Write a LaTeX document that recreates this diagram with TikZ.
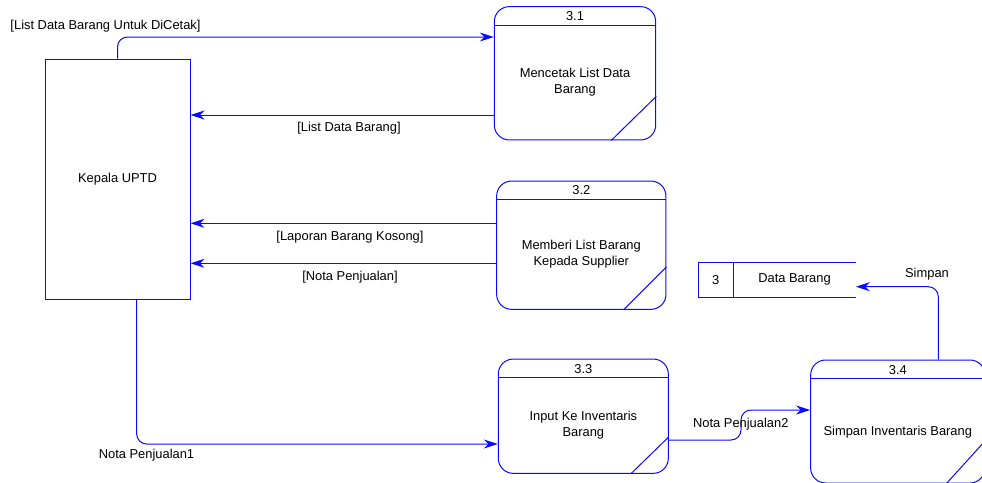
\documentclass[tikz,border=0pt]{standalone}
\usepackage{fontspec}
\setmainfont{Liberation Sans}
\usetikzlibrary{arrows.meta}
\definecolor{dfdblue}{RGB}{10,10,255}

\begin{document}
\begin{tikzpicture}[x=1pt,y=-1pt]

\tikzset{every node/.style={font=\fontsize{12.9}{16}\selectfont},
  entity/.style={draw=dfdblue, line width=1pt, inner sep=0pt},
  process/.style={draw=dfdblue, line width=1pt, rounded corners=15pt, inner sep=0pt},
  txt/.style={align=center},
  flow/.style={draw=dfdblue, line width=1pt, rounded corners=10pt,
    -{Stealth[length=14pt,width=9pt,inset=4.5pt]}}}

\useasboundingbox (0,0) rectangle (982,482);
\clip (0,0) rectangle (982,482);

\node[entity, minimum width=145pt, minimum height=240.5pt] (kepala) at (117.5,179.3) {Kepala UPTD};

\node[process, minimum width=161.4pt, minimum height=133.3pt] (p31) at (575,73.3) {};
\node (p31no) at (575,16.2) {3.1};
\node[txt] (p31txt) at (575,82.5) {Mencetak List Data\\Barang};

\node[process, minimum width=169.3pt, minimum height=128.3pt] (p32) at (581.3,245.2) {};
\node (p32no) at (581.3,190.5) {3.2};
\node[txt] (p32txt) at (581.3,254) {Memberi List Barang\\Kepada Supplier};

\node[process, minimum width=170pt, minimum height=114.3pt] (p33) at (583.3,416.2) {};
\node (p33no) at (583.3,368.7) {3.3};
\node[txt] (p33txt) at (583.3,425.5) {Input Ke Inventaris\\Barang};

\node[process, minimum width=174.3pt, minimum height=123pt] (p34) at (897.8,421.5) {};
\node (p34no) at (897.8,370.3) {3.4};
\node[txt] (p34txt) at (897.8,431.8) {Simpan Inventaris Barang};

\foreach \p/\dx/\dy in {p31/45/44, p32/43/43, p33/38/37, p34/39/43} {
  \draw[dfdblue, line width=1pt] ([yshift=-19pt]\p.north west) -- ([yshift=-19pt]\p.north east);
  \draw[dfdblue, line width=1pt] ([xshift=-\dx pt]\p.south east) -- ([yshift=\dy pt]\p.south east);
}

% data store
\node[inner sep=0pt, minimum width=157.4pt, minimum height=35pt] (store) at (777,279.8) {};
\draw[dfdblue, line width=1pt] (store.north east) -- (store.north west) -- (store.south west) -- (store.south east);
\draw[dfdblue, line width=1pt] ([xshift=35pt]store.north west) -- ([xshift=35pt]store.south west);
\node (storeno) at (715.8,279.8) {3};
\node (storetxt) at (794.5,279.8) {Data Barang};

% flows
\draw[flow] (kepala.north) |- ([yshift=36.3pt]p31.west);
\node (f1) at (105.5,26) {[List Data Barang Untuk DiCetak]};

\draw[flow] (p31.west |- 0,115) -- (kepala.east |- 0,115);
\node (f2) at (349,127.7) {[List Data Barang]};

\draw[flow] (p32.west |- 0,223.3) -- (kepala.east |- 0,223.3);
\node (f3) at (350,236.7) {[Laporan Barang Kosong]};

\draw[flow] (p32.west |- 0,263.3) -- (kepala.east |- 0,263.3);
\node (f4) at (350,276.7) {[Nota Penjualan]};

\draw[flow] (kepala.south -| 136.7,0) |- (p33.west |- 0,444);
\node (f5) at (146.5,455.5) {Nota Penjualan1};

\draw[flow] (p33.east |- 0,440) -- (741,440) -- (741,410) -- (p34.west |- 0,410);
\node (f6) at (740.8,424) {Nota Penjualan2};

\draw[flow] (p34.north -| 938.3,0) |- (store.east |- 0,286.7);
\node (f7) at (927,274) {Simpan};

\end{tikzpicture}
\end{document}
